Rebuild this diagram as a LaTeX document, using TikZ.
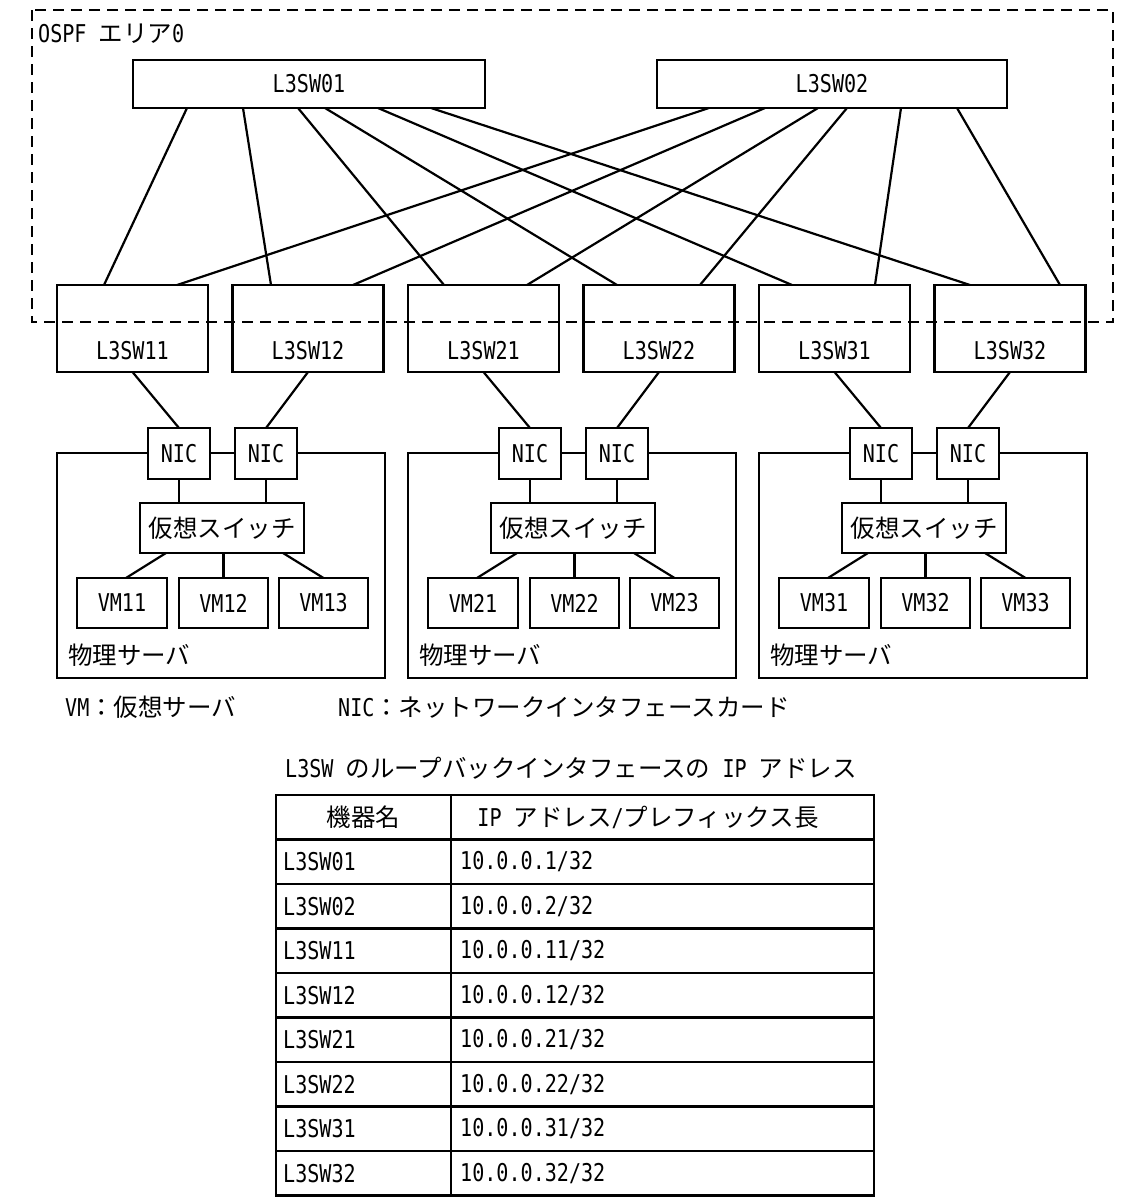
\documentclass[tikz,border=0pt]{standalone}
\usepackage{fontspec}
\setmainfont{DejaVu Sans Mono}[FakeStretch=0.82]
\newfontfamily\jp{Noto Sans CJK JP}
\usetikzlibrary{calc}
\begin{document}
\begin{tikzpicture}[x=1pt,y=-1pt,
  every node/.style={font=\fontsize{24.5}{28}\selectfont},
  box/.style={draw, line width=2.2pt, inner sep=0pt, outer sep=0pt, fill=white},
  wire/.style={line width=2.2pt},
  area/.style={line width=2.6pt, dash pattern=on 11pt off 7pt},
  txt/.style={inner sep=0pt}]
\fill[white] (0,0) rectangle (1136,1200);
\useasboundingbox (0,0) rectangle (1136,1200);

% area label
\node[txt, anchor=west] (ospf) at (38,34) {OSPF {\jp エリア}0};

% core switches
\node[box, minimum width=352pt, minimum height=48pt] (L01) at (309,84) {L3SW01};
\node[box, minimum width=350pt, minimum height=48pt] (L02) at (832,84) {L3SW02};

% access switches
\foreach \nm/\x in {11/57, 12/232.5, 21/408, 22/583.5, 31/759, 32/934.5} {
  \node[box, fill=none, minimum width=151pt, minimum height=87pt] (s\nm) at (\x+75.5,328.5) {};
  \node[txt] (st\nm) at (\x+75.5,351) {L3SW\nm};
}

% core links
\foreach \a/\b/\c in {54/11/47, 110/12/38.5, 165/21/36, 192/22/33.5, 245/31/33, 298/32/35.5}
  \draw[wire] ($(L01.south west)+(\a,0)$) -- ($(s\b.north west)+(\c,0)$);
\foreach \a/\b/\c in {52/11/120, 108/12/120.5, 161/21/119, 190/22/116.5, 244/31/116, 300/32/125.5}
  \draw[wire] ($(L02.south west)+(\a,0)$) -- ($(s\b.north west)+(\c,0)$);

% OSPF area
\draw[area] (32,10) rectangle (1113,322);

% servers
\foreach \k/\g in {0/1, 1/2, 2/3} {
  \begin{scope}[xshift=351*\k]
    \draw[wire] (57,453) rectangle (385,678);
    \node[box, minimum width=62pt, minimum height=51pt] (nicA\k) at (179,453.5) {NIC};
    \node[box, minimum width=62pt, minimum height=51pt] (nicB\k) at (266,453.5) {NIC};
    \node[box, minimum width=164pt, minimum height=50pt] (vs\k) at (222,528) {\jp 仮想スイッチ};
    \node[box, minimum width=90pt, minimum height=50pt] (vmA\k) at (122,603) {VM\g1};
    \node[box, minimum width=89pt, minimum height=50pt] (vmB\k) at (223.5,603) {VM\g2};
    \node[box, minimum width=89pt, minimum height=50pt] (vmC\k) at (323.5,603) {VM\g3};
    \node[txt, anchor=west] (phys\k) at (68,655) {\jp 物理サーバ};
    \draw[wire] (s\g1.south) -- (nicA\k.north);
    \draw[wire] (s\g2.south) -- (nicB\k.north);
    \draw[wire] (nicA\k.south) -- (nicA\k.south |- vs\k.north);
    \draw[wire] (nicB\k.south) -- (nicB\k.south |- vs\k.north);
    \draw[wire] ($(vs\k.south west)+(26,0)$) -- ($(vmA\k.north)+(4,0)$);
    \draw[wire] (vmB\k.north |- vs\k.south) -- (vmB\k.north);
    \draw[wire] ($(vs\k.south east)+(-21,0)$) -- (vmC\k.north);
  \end{scope}
}

% legend
\node[txt, anchor=west] (vmnote) at (65,707) {VM{\jp ：仮想サーバ}};
\node[txt, anchor=west] (nicnote) at (338,707) {NIC{\jp ：ネットワークインタフェースカード}};

% table
\node[txt] (ttl) at (571,768) {L3SW {\jp のループバックインタフェースの} IP {\jp アドレス}};
\draw[wire] (276,795) rectangle (874,1195.5);
\draw[wire] (451,795) -- (451,1195.5);
\foreach \i in {1,...,8}
  \draw[wire] (276,795+44.5*\i) -- (874,795+44.5*\i);
\node[txt] (h1) at (363.5,817) {\jp 機器名};
\node[txt] (h2) at (648,817) {IP {\jp アドレス}/{\jp プレフィックス長}};
\foreach \i/\nm/\ip in {1/01/1, 2/02/2, 3/11/11, 4/12/12, 5/21/21, 6/22/22, 7/31/31, 8/32/32} {
  \node[txt, anchor=west] (tn\i) at (283,795+44.5*\i+22.25) {L3SW\nm};
  \node[txt, anchor=west] (ta\i) at (460,795+44.5*\i+22.25) {10.0.0.\ip/32};
}
\end{tikzpicture}
\end{document}
